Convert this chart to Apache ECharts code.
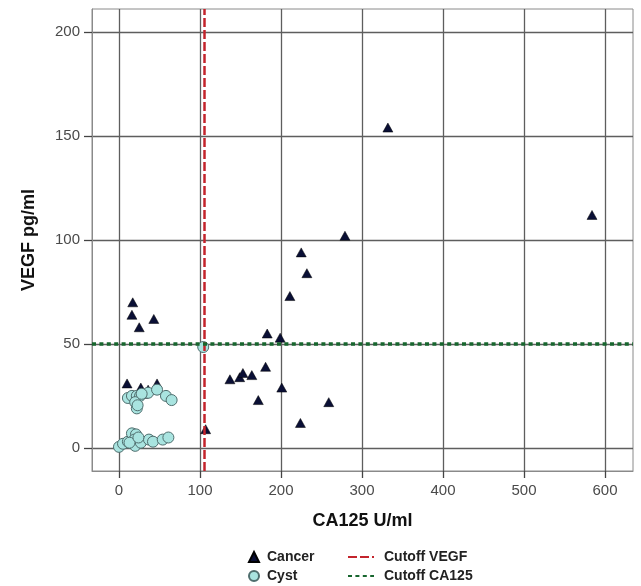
<!DOCTYPE html>
<html>
<head>
<meta charset="utf-8">
<script src="https://cdn.jsdelivr.net/npm/echarts@6/dist/echarts.min.js"></script>
<style>html,body{margin:0;padding:0;background:#fff}#chart{width:641px;height:586px}</style>
</head>
<body>
<div id="chart"></div>
<script>
// ---- data ----
const cancerCA125 = [17, 16, 43, 25, 10, 27, 47, 36, 30, 20, 107, 137, 149, 153, 164, 172, 181, 183, 199, 201, 211, 225, 232, 279, 224, 259, 332, 584];
const cancerVEGF  = [70, 64, 62, 58, 31, 29, 31, 28, 26, 7, 9, 33, 34, 36, 35, 23, 39, 55, 53, 29, 73, 94, 84, 102, 12, 22, 154, 112];
const cystCA125 = [11, 16, 22, 26, 20, 22, 23, 36, 47, 58, 65, 28, 0, 5, 11, 16, 21, 19, 20, 27, 37, 42, 54, 61, 13, 24, 104];
const cystVEGF  = [24, 25, 25, 25, 22, 19, 20.5, 26.5, 28, 25, 23, 26, 0.5, 2, 3, 7, 6.5, 4, 1, 2.5, 4, 3, 4, 5, 2.5, 5, 48.5];
const cutoffCA125Value = 105;  // vertical line (legend: Cutoff VEGF)
const cutoffVEGFValue = 50;    // horizontal line (legend: Cutoff CA125)
const xTicks = [0, 100, 200, 300, 400, 500, 600];
const yTicks = [0, 50, 100, 150, 200];
const xRange = [-33.3, 634.6];
const yRange = [-11.1, 211];

const zip = (a, b) => a.map((v, i) => [v, b[i]]);
const font = '"Liberation Sans", Arial, sans-serif';

const chart = echarts.init(document.getElementById('chart'), null, {renderer: 'canvas'});
chart.setOption({
  animation: false,
  backgroundColor: '#fff',
  grid: {left: 92, top: 9, right: 8, bottom: 115, show: true, borderColor: '#8a8a8a', borderWidth: 1, backgroundColor: 'transparent'},
  xAxis: {
    type: 'value', min: xRange[0], max: xRange[1],
    name: 'CA125 U/ml', nameLocation: 'middle', nameGap: 41,
    nameTextStyle: {fontFamily: font, fontSize: 18, fontWeight: 'bold', color: '#111'},
    axisLine: {show: true, onZero: false, lineStyle: {color: '#8a8a8a', width: 1}},
    axisTick: {show: true, length: 7, customValues: xTicks, lineStyle: {color: '#444', width: 1.3}},
    axisLabel: {customValues: xTicks, fontFamily: font, fontSize: 15, color: '#4a4a4a', margin: 12},
    splitLine: {show: true, lineStyle: {color: '#5e5e5e', width: 1.3}}
  },
  yAxis: {
    type: 'value', min: yRange[0], max: yRange[1],
    name: 'VEGF pg/ml', nameLocation: 'middle', nameGap: 54, nameRotate: 90,
    nameTextStyle: {fontFamily: font, fontSize: 18, fontWeight: 'bold', color: '#111'},
    axisLine: {show: true, onZero: false, lineStyle: {color: '#8a8a8a', width: 1}},
    axisTick: {show: true, length: 8, customValues: yTicks, lineStyle: {color: '#444', width: 1.3}},
    axisLabel: {customValues: yTicks, fontFamily: font, fontSize: 15, color: '#4a4a4a', margin: 12},
    splitLine: {show: true, lineStyle: {color: '#5e5e5e', width: 1.3}}
  },
  legend: [
    {
      orient: 'vertical', left: 248, top: 550, padding: 0, itemGap: 5, itemWidth: 10, itemHeight: 10,
      data: ['Cancer', 'Cyst'],
      textStyle: {fontFamily: font, fontSize: 14, fontWeight: 'bold', color: '#222', lineHeight: 14, padding: [0, 0, 0, 3]}
    },
    {
      orient: 'vertical', left: 347, top: 550, padding: 0, itemGap: 5, itemWidth: 26, itemHeight: 14,
      data: ['Cutoff VEGF', 'Cutoff CA125'],
      textStyle: {fontFamily: font, fontSize: 14, fontWeight: 'bold', color: '#222', lineHeight: 14, padding: [0, 0, 0, 5]}
    }
  ],
  series: [
    {
      name: 'Cancer', type: 'scatter', symbol: 'triangle', symbolSize: [10, 9],
      data: zip(cancerCA125, cancerVEGF),
      itemStyle: {color: '#0a0f35', borderColor: '#000', borderWidth: 0.5, opacity: 1}, z: 2
    },
    {
      name: 'Cyst', type: 'scatter', symbol: 'circle', symbolSize: 11,
      data: zip(cystCA125, cystVEGF),
      itemStyle: {color: '#a9e4e0', borderColor: '#4f6e6e', borderWidth: 1, opacity: 1}, z: 3
    },
    {
      name: 'Cutoff VEGF', type: 'line', data: [], symbol: 'none',
      itemStyle: {color: '#c3242c', opacity: 0},
      lineStyle: {color: '#c3242c', width: 2.5, type: [9, 3]},
      markLine: {silent: true, symbol: 'none', label: {show: false}, animation: false,
        lineStyle: {color: '#c3242c', width: 2.5, type: [9, 3], opacity: 1},
        data: [{xAxis: cutoffCA125Value}]}, z: 5
    },
    {
      name: 'Cutoff CA125', type: 'line', data: [], symbol: 'none',
      itemStyle: {color: '#17662e', opacity: 0},
      lineStyle: {color: '#17662e', width: 3.5, type: [4, 3.4]},
      markLine: {silent: true, symbol: 'none', label: {show: false}, animation: false,
        lineStyle: {color: '#17662e', width: 3.5, type: [4, 3.4], opacity: 1},
        data: [{yAxis: cutoffVEGFValue}]}, z: 5
    }
  ]
});
</script>
</body>
</html>
